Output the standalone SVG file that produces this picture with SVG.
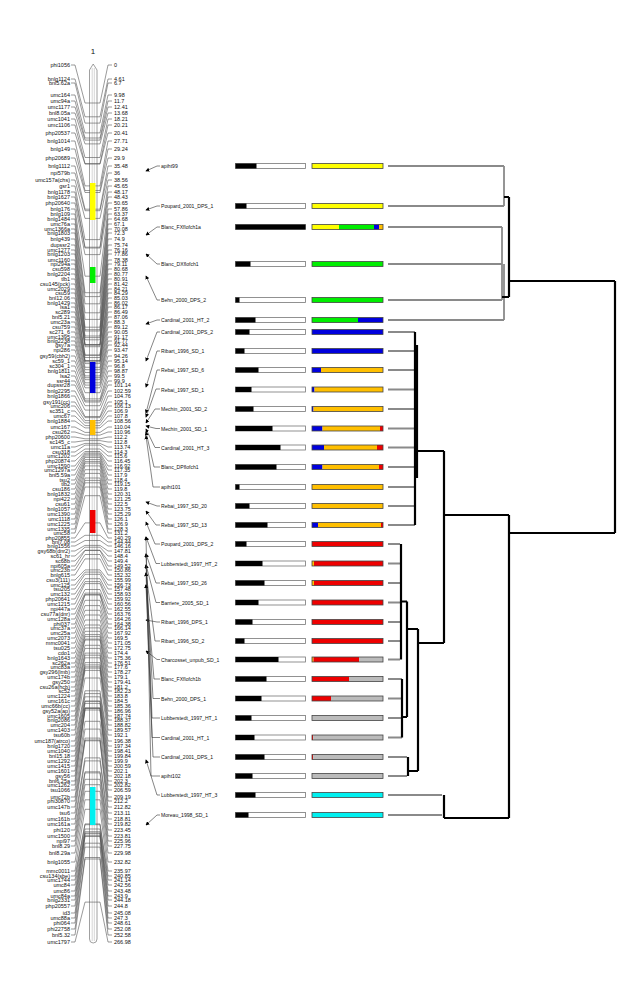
<svg xmlns="http://www.w3.org/2000/svg" width="641" height="1000" viewBox="0 0 641 1000">
<style>
text{font-family:"Liberation Sans",Arial,sans-serif;font-size:5.5px;fill:#111}
.l{text-anchor:end}
.q{font-size:5.1px}
#mlines path{fill:none;stroke:#555;stroke-width:0.6}
#qlines path{fill:none;stroke:#333;stroke-width:0.6}
.bo{fill:#fff;stroke:#777;stroke-width:0.8}
.co{fill:none;stroke:#444;stroke-width:0.8}
.lf{stroke:#8a8a8a;stroke-width:1.8;fill:none}
.bk{stroke:#000;stroke-width:2.2;fill:none}
</style>
<defs>
<marker id="arr" viewBox="0 0 6 6" refX="5" refY="3" markerWidth="4" markerHeight="4" orient="auto-start-reverse" markerUnits="userSpaceOnUse"><path d="M0,0L6,3L0,6z" fill="#000"/></marker>
</defs>
<rect width="641" height="1000" fill="#fff"/>
<text x="93" y="54" style="font-size:8px;text-anchor:middle">1</text>
<g id="chromosome">
<path d="M89.5 70 L93.2 64 L97 70 V939 Q97 943 93.2 943 Q89.5 943 89.5 939 Z" fill="#fff" stroke="#888" stroke-width="0.8"/>
<line x1="92.2" y1="68" x2="92.2" y2="941" stroke="#bbb" stroke-width="0.6"/>
<line x1="94.3" y1="68" x2="94.3" y2="941" stroke="#bbb" stroke-width="0.6"/>
</g>
<g id="mlines">
<path d="M71 65H75L85 103H100L108 65H112"/>
<path d="M71 79H75L85 116.8H100L108 79H112"/>
<path d="M71 83H75L85 123.1H100L108 83H112"/>
<path d="M71 95H75L85 132.9H100L108 95H112"/>
<path d="M71 101H75L85 138H100L108 101H112"/>
<path d="M71 107H75L85 140.1H100L108 107H112"/>
<path d="M71 113H75L85 143.9H100L108 113H112"/>
<path d="M71 119H75L85 157.5H100L108 119H112"/>
<path d="M71 125H75L85 163.5H100L108 125H112"/>
<path d="M71 133H75L85 164.1H100L108 133H112"/>
<path d="M71 141H75L85 185.9H100L108 141H112"/>
<path d="M71 149H75L85 190.5H100L108 149H112"/>
<path d="M71 158H75L85 192.5H100L108 158H112"/>
<path d="M71 166H75L85 209.2H100L108 166H112"/>
<path d="M71 173H75L85 210.7H100L108 173H112"/>
<path d="M71 180H75L85 218.4H100L108 180H112"/>
<path d="M71 186H75L85 239.6H100L108 186H112"/>
<path d="M71 192H75L85 247.2H100L108 192H112"/>
<path d="M71 197H75L85 248H100L108 197H112"/>
<path d="M71 203H75L85 254.6H100L108 203H112"/>
<path d="M71 209H75L85 276.2H100L108 209H112"/>
<path d="M71 214H75L85 292.7H100L108 214H112"/>
<path d="M71 219H75L85 296.6H100L108 219H112"/>
<path d="M71 224H75L85 303.8H100L108 224H112"/>
<path d="M71 229H75L85 312.8H100L108 229H112"/>
<path d="M71 233H75L85 319.4H100L108 233H112"/>
<path d="M71 239H75L85 327.2H100L108 239H112"/>
<path d="M71 245H75L85 329.7H100L108 245H112"/>
<path d="M71 250H75L85 331H100L108 250H112"/>
<path d="M71 254H75L85 336H100L108 254H112"/>
<path d="M71 260H75L85 337.6H100L108 260H112"/>
<path d="M71 264H75L85 339.8H100L108 264H112"/>
<path d="M71 269H75L85 344.5H100L108 269H112"/>
<path d="M71 274H75L85 344.7H100L108 274H112"/>
<path d="M71 279H75L85 345.2H100L108 279H112"/>
<path d="M71 284H75L85 346.7H100L108 284H112"/>
<path d="M71 289H75L85 355H100L108 289H112"/>
<path d="M71 293H75L85 355.3H100L108 293H112"/>
<path d="M71 298H75L85 357.5H100L108 298H112"/>
<path d="M71 303H75L85 360.5H100L108 303H112"/>
<path d="M71 307H75L85 360.9H100L108 307H112"/>
<path d="M71 312H75L85 361.9H100L108 312H112"/>
<path d="M71 317H75L85 363.6H100L108 317H112"/>
<path d="M71 322H75L85 367.3H100L108 322H112"/>
<path d="M71 327H75L85 369.7H100L108 327H112"/>
<path d="M71 332H75L85 372.5H100L108 332H112"/>
<path d="M71 337H75L85 375.9H100L108 337H112"/>
<path d="M71 341H75L85 377.7H100L108 341H112"/>
<path d="M71 345H75L85 379.7H100L108 345H112"/>
<path d="M71 350H75L85 382.8H100L108 350H112"/>
<path d="M71 356H75L85 385.1H100L108 356H112"/>
<path d="M71 361H75L85 387.8H100L108 361H112"/>
<path d="M71 366H75L85 392.7H100L108 366H112"/>
<path d="M71 371H75L85 398.9H100L108 371H112"/>
<path d="M71 376H75L85 400.8H100L108 376H112"/>
<path d="M71 381H75L85 402H100L108 381H112"/>
<path d="M71 385H75L85 405.7H100L108 385H112"/>
<path d="M71 391H75L85 410.1H100L108 391H112"/>
<path d="M71 396H75L85 416.5H100L108 396H112"/>
<path d="M71 402H75L85 417.6H100L108 402H112"/>
<path d="M71 406H75L85 420.6H100L108 406H112"/>
<path d="M71 411H75L85 422.9H100L108 411H112"/>
<path d="M71 416H75L85 425.6H100L108 416H112"/>
<path d="M71 421H75L85 427.9H100L108 421H112"/>
<path d="M71 427H75L85 432.4H100L108 427H112"/>
<path d="M71 432H75L85 435.1H100L108 432H112"/>
<path d="M71 437H75L85 438.8H100L108 437H112"/>
<path d="M71 442H75L85 440.6H100L108 442H112"/>
<path d="M71 447H75L85 443.4H100L108 447H112"/>
<path d="M71 452H75L85 445.1H100L108 452H112"/>
<path d="M71 456H75L85 449H100L108 456H112"/>
<path d="M71 461H75L85 451.5H100L108 461H112"/>
<path d="M71 466H75L85 453H100L108 466H112"/>
<path d="M71 470H75L85 454.2H100L108 470H112"/>
<path d="M71 475H75L85 455.9H100L108 475H112"/>
<path d="M71 480H75L85 457.4H100L108 480H112"/>
<path d="M71 484H75L85 459.6H100L108 484H112"/>
<path d="M71 489H75L85 461.6H100L108 489H112"/>
<path d="M71 494H75L85 463.1H100L108 494H112"/>
<path d="M71 499H75L85 465.9H100L108 499H112"/>
<path d="M71 504H75L85 469.7H100L108 504H112"/>
<path d="M71 509H75L85 473.4H100L108 509H112"/>
<path d="M71 514H75L85 478H100L108 514H112"/>
<path d="M71 519H75L85 480.4H100L108 519H112"/>
<path d="M71 524H75L85 482.8H100L108 524H112"/>
<path d="M71 529H75L85 487H100L108 529H112"/>
<path d="M71 533H75L85 495.7H100L108 533H112"/>
<path d="M71 538H75L85 522.9H100L108 538H112"/>
<path d="M71 542H75L85 535.3H100L108 542H112"/>
<path d="M71 546H75L85 540.5H100L108 546H112"/>
<path d="M71 551H75L85 545.4H100L108 551H112"/>
<path d="M71 556H75L85 547.2H100L108 556H112"/>
<path d="M71 561H75L85 550.2H100L108 561H112"/>
<path d="M71 566H75L85 550.5H100L108 566H112"/>
<path d="M71 570H75L85 554.5H100L108 570H112"/>
<path d="M71 575H75L85 558.9H100L108 575H112"/>
<path d="M71 580H75L85 569.9H100L108 580H112"/>
<path d="M71 585H75L85 572.1H100L108 585H112"/>
<path d="M71 589H75L85 574.3H100L108 589H112"/>
<path d="M71 594H75L85 578.7H100L108 594H112"/>
<path d="M71 599H75L85 581.6H100L108 599H112"/>
<path d="M71 604H75L85 583.6H100L108 604H112"/>
<path d="M71 609H75L85 589.5H100L108 609H112"/>
<path d="M71 614H75L85 593.1H100L108 614H112"/>
<path d="M71 619H75L85 594.6H100L108 619H112"/>
<path d="M71 624H75L85 595H100L108 624H112"/>
<path d="M71 628H75L85 600.3H100L108 628H112"/>
<path d="M71 633H75L85 605.6H100L108 633H112"/>
<path d="M71 638H75L85 610.3H100L108 638H112"/>
<path d="M71 643H75L85 615H100L108 643H112"/>
<path d="M71 648H75L85 620H100L108 648H112"/>
<path d="M71 653H75L85 625H100L108 653H112"/>
<path d="M71 658H75L85 627.9H100L108 658H112"/>
<path d="M71 663H75L85 631.3H100L108 663H112"/>
<path d="M71 667H75L85 634.6H100L108 667H112"/>
<path d="M71 672H75L85 636.6H100L108 672H112"/>
<path d="M71 677H75L85 639.1H100L108 677H112"/>
<path d="M71 682H75L85 640H100L108 682H112"/>
<path d="M71 687H75L85 645.3H100L108 687H112"/>
<path d="M71 691H75L85 648.4H100L108 691H112"/>
<path d="M71 696H75L85 653.1H100L108 696H112"/>
<path d="M71 701H75L85 655.2H100L108 701H112"/>
<path d="M71 706H75L85 657.8H100L108 706H112"/>
<path d="M71 711H75L85 662.6H100L108 711H112"/>
<path d="M71 716H75L85 664.9H100L108 716H112"/>
<path d="M71 720H75L85 666.8H100L108 720H112"/>
<path d="M71 725H75L85 668.1H100L108 725H112"/>
<path d="M71 730H75L85 670.4H100L108 730H112"/>
<path d="M71 735H75L85 678H100L108 735H112"/>
<path d="M71 741H75L85 690.8H100L108 741H112"/>
<path d="M71 746H75L85 693.6H100L108 746H112"/>
<path d="M71 751H75L85 696.8H100L108 751H112"/>
<path d="M71 756H75L85 701.1H100L108 756H112"/>
<path d="M71 761H75L85 701.3H100L108 761H112"/>
<path d="M71 766H75L85 703.4H100L108 766H112"/>
<path d="M71 771H75L85 707.9H100L108 771H112"/>
<path d="M71 776H75L85 708.1H100L108 776H112"/>
<path d="M71 781H75L85 708.5H100L108 781H112"/>
<path d="M71 785H75L85 710H100L108 785H112"/>
<path d="M71 790H75L85 721.3H100L108 790H112"/>
<path d="M71 797H75L85 729.1H100L108 797H112"/>
<path d="M71 801H75L85 738.1H100L108 801H112"/>
<path d="M71 807H75L85 740H100L108 807H112"/>
<path d="M71 813H75L85 740.8H100L108 813H112"/>
<path d="M71 819H75L85 757.9H100L108 819H112"/>
<path d="M71 824H75L85 760.9H100L108 824H112"/>
<path d="M71 830H75L85 771.8H100L108 830H112"/>
<path d="M71 836H75L85 772.9H100L108 836H112"/>
<path d="M71 841H75L85 779.3H100L108 841H112"/>
<path d="M71 846H75L85 784.7H100L108 846H112"/>
<path d="M71 853H75L85 791.3H100L108 853H112"/>
<path d="M71 862H75L85 799.8H100L108 862H112"/>
<path d="M71 871H75L85 809.3H100L108 871H112"/>
<path d="M71 876H75L85 823.9H100L108 876H112"/>
<path d="M71 880H75L85 824.7H100L108 880H112"/>
<path d="M71 885H75L85 829H100L108 885H112"/>
<path d="M71 891H75L85 831.7H100L108 891H112"/>
<path d="M71 896H75L85 833H100L108 896H112"/>
<path d="M71 900H75L85 833.8H100L108 900H112"/>
<path d="M71 906H75L85 835.7H100L108 906H112"/>
<path d="M71 913H75L85 836.5H100L108 913H112"/>
<path d="M71 918H75L85 843.2H100L108 918H112"/>
<path d="M71 923H75L85 847.1H100L108 923H112"/>
<path d="M71 929H75L85 857.5H100L108 929H112"/>
<path d="M71 935H75L85 859H100L108 935H112"/>
<path d="M71 942H75L85 902.1H100L108 942H112"/>
</g>
<g id="qtl-blocks">
<rect x="90" y="183" width="5.5" height="37" fill="#ffff00"/>
<rect x="90" y="267" width="5.5" height="16" fill="#00ee00"/>
<rect x="90" y="362" width="5.5" height="31" fill="#0000dd"/>
<rect x="90" y="420" width="5.5" height="15" fill="#ffbf00"/>
<rect x="90" y="510" width="5.5" height="23" fill="#ee0000"/>
<rect x="90" y="787" width="5.5" height="38" fill="#00f0f0"/>
</g>
<g id="left-labels">
<text class="l" x="70" y="67">phi1056</text>
<text class="l" x="70" y="81">bnlg1124</text>
<text class="l" x="70" y="85">bnl5.62a</text>
<text class="l" x="70" y="97">umc164</text>
<text class="l" x="70" y="103">umc94a</text>
<text class="l" x="70" y="109">umc1177</text>
<text class="l" x="70" y="115">bnl8.05a</text>
<text class="l" x="70" y="121">umc1041</text>
<text class="l" x="70" y="127">umc1106</text>
<text class="l" x="70" y="135">php20537</text>
<text class="l" x="70" y="143">bnlg1014</text>
<text class="l" x="70" y="151">bnlg149</text>
<text class="l" x="70" y="160">php20689</text>
<text class="l" x="70" y="168">bnlg1112</text>
<text class="l" x="70" y="175">npi579b</text>
<text class="l" x="70" y="182">umc157a(chs)</text>
<text class="l" x="70" y="188">gsr1</text>
<text class="l" x="70" y="194">bnlg1178</text>
<text class="l" x="70" y="199">bnlg1627</text>
<text class="l" x="70" y="205">php20640</text>
<text class="l" x="70" y="211">bnlg176</text>
<text class="l" x="70" y="216">bnlg109</text>
<text class="l" x="70" y="221">bnlg1484</text>
<text class="l" x="70" y="226">umc76a</text>
<text class="l" x="70" y="231">umc1366a</text>
<text class="l" x="70" y="235">bnlg1803</text>
<text class="l" x="70" y="241">bnlg439</text>
<text class="l" x="70" y="247">dupssr2</text>
<text class="l" x="70" y="252">umc1277</text>
<text class="l" x="70" y="256">bnlg1203</text>
<text class="l" x="70" y="262">umc1160</text>
<text class="l" x="70" y="266">npi294a</text>
<text class="l" x="70" y="271">csu598</text>
<text class="l" x="70" y="276">bnlg2204</text>
<text class="l" x="70" y="281">tlb1</text>
<text class="l" x="70" y="286">csu145(pck)</text>
<text class="l" x="70" y="291">umc2029</text>
<text class="l" x="70" y="295">csu59</text>
<text class="l" x="70" y="300">bnl12.06</text>
<text class="l" x="70" y="305">bnlg1429</text>
<text class="l" x="70" y="309">lsa1</text>
<text class="l" x="70" y="314">sc289</text>
<text class="l" x="70" y="319">bnl5.21</text>
<text class="l" x="70" y="324">umc23a</text>
<text class="l" x="70" y="329">csu759</text>
<text class="l" x="70" y="334">sc271_6</text>
<text class="l" x="70" y="339">umc1395</text>
<text class="l" x="70" y="343">bnlg2238</text>
<text class="l" x="70" y="347">gsy7a</text>
<text class="l" x="70" y="352">npi286</text>
<text class="l" x="70" y="358">gsy59(cbh2)</text>
<text class="l" x="70" y="363">sc59_1</text>
<text class="l" x="70" y="368">sc304_1</text>
<text class="l" x="70" y="373">bnlg1811</text>
<text class="l" x="70" y="378">lsa2</text>
<text class="l" x="70" y="383">ssr44</text>
<text class="l" x="70" y="387">dupssr28</text>
<text class="l" x="70" y="393">bnlg2295</text>
<text class="l" x="70" y="398">bnlg1866</text>
<text class="l" x="70" y="404">gsy191(cc)</text>
<text class="l" x="70" y="408">umc206</text>
<text class="l" x="70" y="413">sc351_c</text>
<text class="l" x="70" y="418">umc67</text>
<text class="l" x="70" y="423">bnlg1884</text>
<text class="l" x="70" y="429">umc167</text>
<text class="l" x="70" y="434">csu262</text>
<text class="l" x="70" y="439">php20600</text>
<text class="l" x="70" y="444">sc145_c</text>
<text class="l" x="70" y="449">umc11a</text>
<text class="l" x="70" y="454">csu318</text>
<text class="l" x="70" y="458">umc1202</text>
<text class="l" x="70" y="463">php20874</text>
<text class="l" x="70" y="468">umc1590</text>
<text class="l" x="70" y="472">umc1297a</text>
<text class="l" x="70" y="477">bnl5.59a</text>
<text class="l" x="70" y="482">tsu2</text>
<text class="l" x="70" y="486">tlb2</text>
<text class="l" x="70" y="491">csu186</text>
<text class="l" x="70" y="496">bnlg1832</text>
<text class="l" x="70" y="501">npi422</text>
<text class="l" x="70" y="506">csu61</text>
<text class="l" x="70" y="511">bnlg1057</text>
<text class="l" x="70" y="516">umc1390</text>
<text class="l" x="70" y="521">umc1118</text>
<text class="l" x="70" y="526">umc1225</text>
<text class="l" x="70" y="531">umc1335</text>
<text class="l" x="70" y="535">umc58</text>
<text class="l" x="70" y="540">php20855</text>
<text class="l" x="70" y="544">bnl7.08</text>
<text class="l" x="70" y="548">bnlg1556</text>
<text class="l" x="70" y="553">gsy68b(dnr2)</text>
<text class="l" x="70" y="558">sc61_hr</text>
<text class="l" x="70" y="563">sc68b</text>
<text class="l" x="70" y="568">npi605a</text>
<text class="l" x="70" y="572">umc23b</text>
<text class="l" x="70" y="577">bnlg615</text>
<text class="l" x="70" y="582">csu3(111)</text>
<text class="l" x="70" y="587">umc125</text>
<text class="l" x="70" y="591">tsu205</text>
<text class="l" x="70" y="596">umc132</text>
<text class="l" x="70" y="601">php20641</text>
<text class="l" x="70" y="606">umc1215</text>
<text class="l" x="70" y="611">npi447a</text>
<text class="l" x="70" y="616">csu77a(dnr)</text>
<text class="l" x="70" y="621">umc128a</text>
<text class="l" x="70" y="626">phi037</text>
<text class="l" x="70" y="630">umc37a</text>
<text class="l" x="70" y="635">umc25a</text>
<text class="l" x="70" y="640">umc2073</text>
<text class="l" x="70" y="645">mmc0041</text>
<text class="l" x="70" y="650">tsu025</text>
<text class="l" x="70" y="655">cdo1</text>
<text class="l" x="70" y="660">bnlg1643</text>
<text class="l" x="70" y="665">sc262a</text>
<text class="l" x="70" y="669">umc83a</text>
<text class="l" x="70" y="674">gsy296(lmb)</text>
<text class="l" x="70" y="679">umc174b</text>
<text class="l" x="70" y="684">gsy250</text>
<text class="l" x="70" y="689">csu26a(hcb)</text>
<text class="l" x="70" y="693">sc52</text>
<text class="l" x="70" y="698">umc1224</text>
<text class="l" x="70" y="703">umc161c</text>
<text class="l" x="70" y="708">umc66b(cc)</text>
<text class="l" x="70" y="713">gsy52a(ap)</text>
<text class="l" x="70" y="718">umc1605</text>
<text class="l" x="70" y="722">bnlg2086</text>
<text class="l" x="70" y="727">umc204</text>
<text class="l" x="70" y="732">umc1403</text>
<text class="l" x="70" y="737">tsu60b</text>
<text class="l" x="70" y="743">umc187(atrco)</text>
<text class="l" x="70" y="748">bnlg1720</text>
<text class="l" x="70" y="753">umc1040</text>
<text class="l" x="70" y="758">bnl15.18</text>
<text class="l" x="70" y="763">umc1292</text>
<text class="l" x="70" y="768">umc1415</text>
<text class="l" x="70" y="773">umc1601</text>
<text class="l" x="70" y="778">gsy56</text>
<text class="l" x="70" y="783">bnl6.25a</text>
<text class="l" x="70" y="787">umc1262</text>
<text class="l" x="70" y="792">tsu1066</text>
<text class="l" x="70" y="799">umc72b</text>
<text class="l" x="70" y="803">phi30870</text>
<text class="l" x="70" y="809">umc147b</text>
<text class="l" x="70" y="815">tsu6</text>
<text class="l" x="70" y="821">umc161b</text>
<text class="l" x="70" y="826">umc161a</text>
<text class="l" x="70" y="832">phi120</text>
<text class="l" x="70" y="838">umc1500</text>
<text class="l" x="70" y="843">npi97</text>
<text class="l" x="70" y="848">bnl8.29</text>
<text class="l" x="70" y="855">bnl8.29a</text>
<text class="l" x="70" y="864">bnlg1055</text>
<text class="l" x="70" y="873">mmc0011</text>
<text class="l" x="70" y="878">csu134(sbe)</text>
<text class="l" x="70" y="882">umc1744</text>
<text class="l" x="70" y="887">umc84</text>
<text class="l" x="70" y="893">umc86</text>
<text class="l" x="70" y="898">umc84a</text>
<text class="l" x="70" y="902">bnlg2331</text>
<text class="l" x="70" y="908">php20557</text>
<text class="l" x="70" y="915">id3</text>
<text class="l" x="70" y="920">umc88a</text>
<text class="l" x="70" y="925">phi064</text>
<text class="l" x="70" y="931">phi22758</text>
<text class="l" x="70" y="937">bnl5.32</text>
<text class="l" x="70" y="944">umc1797</text>
</g>
<g id="right-labels">
<text x="114" y="67">0</text>
<text x="114" y="81">4.61</text>
<text x="114" y="85">6.7</text>
<text x="114" y="97">9.98</text>
<text x="114" y="103">11.7</text>
<text x="114" y="109">12.41</text>
<text x="114" y="115">13.68</text>
<text x="114" y="121">18.21</text>
<text x="114" y="127">20.21</text>
<text x="114" y="135">20.41</text>
<text x="114" y="143">27.71</text>
<text x="114" y="151">29.24</text>
<text x="114" y="160">29.9</text>
<text x="114" y="168">35.48</text>
<text x="114" y="175">36</text>
<text x="114" y="182">38.56</text>
<text x="114" y="188">45.65</text>
<text x="114" y="194">48.17</text>
<text x="114" y="199">48.43</text>
<text x="114" y="205">50.65</text>
<text x="114" y="211">57.86</text>
<text x="114" y="216">63.37</text>
<text x="114" y="221">64.68</text>
<text x="114" y="226">67.1</text>
<text x="114" y="231">70.08</text>
<text x="114" y="235">72.3</text>
<text x="114" y="241">74.9</text>
<text x="114" y="247">75.74</text>
<text x="114" y="252">76.16</text>
<text x="114" y="256">77.86</text>
<text x="114" y="262">78.38</text>
<text x="114" y="266">79.11</text>
<text x="114" y="271">80.68</text>
<text x="114" y="276">80.77</text>
<text x="114" y="281">80.91</text>
<text x="114" y="286">81.42</text>
<text x="114" y="291">84.21</text>
<text x="114" y="295">84.29</text>
<text x="114" y="300">85.03</text>
<text x="114" y="305">86.02</text>
<text x="114" y="309">86.17</text>
<text x="114" y="314">86.49</text>
<text x="114" y="319">87.06</text>
<text x="114" y="324">88.3</text>
<text x="114" y="329">89.12</text>
<text x="114" y="334">90.05</text>
<text x="114" y="339">91.17</text>
<text x="114" y="343">91.77</text>
<text x="114" y="347">92.44</text>
<text x="114" y="352">93.47</text>
<text x="114" y="358">94.26</text>
<text x="114" y="363">95.14</text>
<text x="114" y="368">96.8</text>
<text x="114" y="373">98.87</text>
<text x="114" y="378">99.5</text>
<text x="114" y="383">99.9</text>
<text x="114" y="387">101.14</text>
<text x="114" y="393">102.59</text>
<text x="114" y="398">104.76</text>
<text x="114" y="404">105.1</text>
<text x="114" y="408">106.13</text>
<text x="114" y="413">106.9</text>
<text x="114" y="418">107.8</text>
<text x="114" y="423">108.56</text>
<text x="114" y="429">110.04</text>
<text x="114" y="434">110.96</text>
<text x="114" y="439">112.2</text>
<text x="114" y="444">112.8</text>
<text x="114" y="449">113.74</text>
<text x="114" y="454">114.3</text>
<text x="114" y="458">115.6</text>
<text x="114" y="463">116.45</text>
<text x="114" y="468">116.92</text>
<text x="114" y="472">117.35</text>
<text x="114" y="477">117.9</text>
<text x="114" y="482">118.4</text>
<text x="114" y="486">119.15</text>
<text x="114" y="491">119.8</text>
<text x="114" y="496">120.31</text>
<text x="114" y="501">121.25</text>
<text x="114" y="506">122.5</text>
<text x="114" y="511">123.75</text>
<text x="114" y="516">125.29</text>
<text x="114" y="521">126.1</text>
<text x="114" y="526">126.9</text>
<text x="114" y="531">128.3</text>
<text x="114" y="535">131.2</text>
<text x="114" y="540">140.29</text>
<text x="114" y="544">144.44</text>
<text x="114" y="548">146.16</text>
<text x="114" y="553">147.81</text>
<text x="114" y="558">148.4</text>
<text x="114" y="563">149.4</text>
<text x="114" y="568">149.52</text>
<text x="114" y="572">150.86</text>
<text x="114" y="577">152.32</text>
<text x="114" y="582">155.99</text>
<text x="114" y="587">156.73</text>
<text x="114" y="591">157.48</text>
<text x="114" y="596">158.93</text>
<text x="114" y="601">159.92</text>
<text x="114" y="606">160.56</text>
<text x="114" y="611">162.55</text>
<text x="114" y="616">163.76</text>
<text x="114" y="621">164.26</text>
<text x="114" y="626">164.38</text>
<text x="114" y="630">166.14</text>
<text x="114" y="635">167.92</text>
<text x="114" y="640">169.5</text>
<text x="114" y="645">171.05</text>
<text x="114" y="650">172.75</text>
<text x="114" y="655">174.4</text>
<text x="114" y="660">175.36</text>
<text x="114" y="665">176.51</text>
<text x="114" y="669">177.6</text>
<text x="114" y="674">178.27</text>
<text x="114" y="679">179.1</text>
<text x="114" y="684">179.41</text>
<text x="114" y="689">181.2</text>
<text x="114" y="693">182.23</text>
<text x="114" y="698">183.8</text>
<text x="114" y="703">184.5</text>
<text x="114" y="708">185.36</text>
<text x="114" y="713">186.96</text>
<text x="114" y="718">187.74</text>
<text x="114" y="722">188.37</text>
<text x="114" y="727">188.82</text>
<text x="114" y="732">189.57</text>
<text x="114" y="737">192.1</text>
<text x="114" y="743">196.38</text>
<text x="114" y="748">197.34</text>
<text x="114" y="753">198.41</text>
<text x="114" y="758">199.84</text>
<text x="114" y="763">199.9</text>
<text x="114" y="768">200.59</text>
<text x="114" y="773">202.1</text>
<text x="114" y="778">202.18</text>
<text x="114" y="783">202.3</text>
<text x="114" y="787">202.82</text>
<text x="114" y="792">206.59</text>
<text x="114" y="799">209.19</text>
<text x="114" y="803">212.2</text>
<text x="114" y="809">212.82</text>
<text x="114" y="815">213.11</text>
<text x="114" y="821">218.81</text>
<text x="114" y="826">219.82</text>
<text x="114" y="832">223.45</text>
<text x="114" y="838">223.81</text>
<text x="114" y="843">225.96</text>
<text x="114" y="848">227.75</text>
<text x="114" y="855">229.98</text>
<text x="114" y="864">232.82</text>
<text x="114" y="873">235.97</text>
<text x="114" y="878">240.85</text>
<text x="114" y="882">241.14</text>
<text x="114" y="887">242.56</text>
<text x="114" y="893">243.48</text>
<text x="114" y="898">243.9</text>
<text x="114" y="902">244.18</text>
<text x="114" y="908">244.8</text>
<text x="114" y="915">245.08</text>
<text x="114" y="920">247.3</text>
<text x="114" y="925">248.61</text>
<text x="114" y="931">252.08</text>
<text x="114" y="937">252.58</text>
<text x="114" y="944">266.98</text>
</g>
<g id="qlines">
<path d="M146 171L157 166H160" marker-start="url(#arr)"/>
<path d="M146 210L157 206H160" marker-start="url(#arr)"/>
<path d="M146 235L157 227H160" marker-start="url(#arr)"/>
<path d="M146 254L157 264H160" marker-start="url(#arr)"/>
<path d="M146 276L157 300H160" marker-start="url(#arr)"/>
<path d="M146 324L157 320H160" marker-start="url(#arr)"/>
<path d="M146 361L157 332H160" marker-start="url(#arr)"/>
<path d="M146 387L157 351H160" marker-start="url(#arr)"/>
<path d="M146 413L157 370H160" marker-start="url(#arr)"/>
<path d="M146 417L156 389H160" marker-start="url(#arr)"/>
<path d="M146 423L155 409H160" marker-start="url(#arr)"/>
<path d="M146 426L156 428.5H160" marker-start="url(#arr)"/>
<path d="M146 429L155 447.5H160" marker-start="url(#arr)"/>
<path d="M146 432L154 467H160" marker-start="url(#arr)"/>
<path d="M146 436L153 487H160" marker-start="url(#arr)"/>
<path d="M146 502L157 506H160" marker-start="url(#arr)"/>
<path d="M146 511L156 525H160" marker-start="url(#arr)"/>
<path d="M146 522L155 544H160" marker-start="url(#arr)"/>
<path d="M146 537L156 563.5H160" marker-start="url(#arr)"/>
<path d="M146 554L156 583H160" marker-start="url(#arr)"/>
<path d="M146 565L156 602.5H160" marker-start="url(#arr)"/>
<path d="M146 620L157 622H160" marker-start="url(#arr)"/>
<path d="M146 573L155 641H160" marker-start="url(#arr)"/>
<path d="M146 651L157 659.5H160" marker-start="url(#arr)"/>
<path d="M146 585L154 679H160" marker-start="url(#arr)"/>
<path d="M146 565L153 698.5H160" marker-start="url(#arr)"/>
<path d="M146 554L152 718H160" marker-start="url(#arr)"/>
<path d="M146 573L152 737.5H160" marker-start="url(#arr)"/>
<path d="M146 585L153 757H160" marker-start="url(#arr)"/>
<path d="M146 537L151 776H160" marker-start="url(#arr)"/>
<path d="M146 760L157 795H160" marker-start="url(#arr)"/>
<path d="M146 825L157 815H160" marker-start="url(#arr)"/>
</g>
<g id="qtl-names">
<text class="q" x="161" y="168">apiht99</text>
<text class="q" x="161" y="208">Poupard_2001_DPS_1</text>
<text class="q" x="161" y="229">Blanc_FXflofch1a</text>
<text class="q" x="161" y="266">Blanc_DXflofch1</text>
<text class="q" x="161" y="302">Behn_2000_DPS_2</text>
<text class="q" x="161" y="322">Cardinal_2001_HT_2</text>
<text class="q" x="161" y="334">Cardinal_2001_DPS_2</text>
<text class="q" x="161" y="353">Ribart_1996_SD_1</text>
<text class="q" x="161" y="372">Rebai_1997_SD_6</text>
<text class="q" x="161" y="391.5">Rebai_1997_SD_1</text>
<text class="q" x="161" y="411">Mechin_2001_SD_2</text>
<text class="q" x="161" y="430.5">Mechin_2001_SD_1</text>
<text class="q" x="161" y="449.5">Cardinal_2001_HT_3</text>
<text class="q" x="161" y="469">Blanc_DPflofch1</text>
<text class="q" x="161" y="489">apiht101</text>
<text class="q" x="161" y="508">Rebai_1997_SD_20</text>
<text class="q" x="161" y="527">Rebai_1997_SD_13</text>
<text class="q" x="161" y="546">Poupard_2001_DPS_2</text>
<text class="q" x="161" y="565.5">Lubberstedt_1997_HT_2</text>
<text class="q" x="161" y="585">Rebai_1997_SD_26</text>
<text class="q" x="161" y="604.5">Barriere_2005_SD_1</text>
<text class="q" x="161" y="624">Ribart_1996_DPS_1</text>
<text class="q" x="161" y="643">Ribart_1996_SD_2</text>
<text class="q" x="161" y="661.5">Charcosset_unpub_SD_1</text>
<text class="q" x="161" y="681">Blanc_FXflofch1b</text>
<text class="q" x="161" y="700.5">Behn_2000_DPS_1</text>
<text class="q" x="161" y="720">Lubberstedt_1997_HT_1</text>
<text class="q" x="161" y="739.5">Cardinal_2001_HT_1</text>
<text class="q" x="161" y="759">Cardinal_2001_DPS_1</text>
<text class="q" x="161" y="778">apiht102</text>
<text class="q" x="161" y="797">Lubberstedt_1997_HT_3</text>
<text class="q" x="161" y="817">Moreau_1998_SD_1</text>
</g>
<g id="score-bars">
<rect class="bo" x="235.5" y="163.5" width="70" height="5"/><rect x="235.5" y="163.5" width="21" height="5"/>
<rect class="bo" x="235.5" y="203.5" width="70" height="5"/><rect x="235.5" y="203.5" width="11" height="5"/>
<rect class="bo" x="235.5" y="224.5" width="70" height="5"/><rect x="235.5" y="224.5" width="70" height="5"/>
<rect class="bo" x="235.5" y="261.5" width="70" height="5"/><rect x="235.5" y="261.5" width="15" height="5"/>
<rect class="bo" x="235.5" y="297.5" width="70" height="5"/><rect x="235.5" y="297.5" width="4" height="5"/>
<rect class="bo" x="235.5" y="317.5" width="70" height="5"/><rect x="235.5" y="317.5" width="20" height="5"/>
<rect class="bo" x="235.5" y="329.5" width="70" height="5"/><rect x="235.5" y="329.5" width="14" height="5"/>
<rect class="bo" x="235.5" y="348.5" width="70" height="5"/><rect x="235.5" y="348.5" width="9" height="5"/>
<rect class="bo" x="235.5" y="367.5" width="70" height="5"/><rect x="235.5" y="367.5" width="23" height="5"/>
<rect class="bo" x="235.5" y="387" width="70" height="5"/><rect x="235.5" y="387" width="16" height="5"/>
<rect class="bo" x="235.5" y="406.5" width="70" height="5"/><rect x="235.5" y="406.5" width="18" height="5"/>
<rect class="bo" x="235.5" y="426" width="70" height="5"/><rect x="235.5" y="426" width="37" height="5"/>
<rect class="bo" x="235.5" y="445" width="70" height="5"/><rect x="235.5" y="445" width="45" height="5"/>
<rect class="bo" x="235.5" y="464.5" width="70" height="5"/><rect x="235.5" y="464.5" width="41" height="5"/>
<rect class="bo" x="235.5" y="484.5" width="70" height="5"/><rect x="235.5" y="484.5" width="4" height="5"/>
<rect class="bo" x="235.5" y="503.5" width="70" height="5"/><rect x="235.5" y="503.5" width="14" height="5"/>
<rect class="bo" x="235.5" y="522.5" width="70" height="5"/><rect x="235.5" y="522.5" width="32" height="5"/>
<rect class="bo" x="235.5" y="541.5" width="70" height="5"/><rect x="235.5" y="541.5" width="11" height="5"/>
<rect class="bo" x="235.5" y="561" width="70" height="5"/><rect x="235.5" y="561" width="27" height="5"/>
<rect class="bo" x="235.5" y="580.5" width="70" height="5"/><rect x="235.5" y="580.5" width="29" height="5"/>
<rect class="bo" x="235.5" y="600" width="70" height="5"/><rect x="235.5" y="600" width="23" height="5"/>
<rect class="bo" x="235.5" y="619.5" width="70" height="5"/><rect x="235.5" y="619.5" width="17" height="5"/>
<rect class="bo" x="235.5" y="638.5" width="70" height="5"/><rect x="235.5" y="638.5" width="9" height="5"/>
<rect class="bo" x="235.5" y="657" width="70" height="5"/><rect x="235.5" y="657" width="43" height="5"/>
<rect class="bo" x="235.5" y="676.5" width="70" height="5"/><rect x="235.5" y="676.5" width="31" height="5"/>
<rect class="bo" x="235.5" y="696" width="70" height="5"/><rect x="235.5" y="696" width="26" height="5"/>
<rect class="bo" x="235.5" y="715.5" width="70" height="5"/><rect x="235.5" y="715.5" width="16" height="5"/>
<rect class="bo" x="235.5" y="735" width="70" height="5"/><rect x="235.5" y="735" width="19" height="5"/>
<rect class="bo" x="235.5" y="754.5" width="70" height="5"/><rect x="235.5" y="754.5" width="29" height="5"/>
<rect class="bo" x="235.5" y="773.5" width="70" height="5"/><rect x="235.5" y="773.5" width="17" height="5"/>
<rect class="bo" x="235.5" y="792.5" width="70" height="5"/><rect x="235.5" y="792.5" width="20" height="5"/>
<rect class="bo" x="235.5" y="812.5" width="70" height="5"/><rect x="235.5" y="812.5" width="13" height="5"/>
</g>
<g id="colour-bars">
<rect x="312" y="163.5" width="71" height="5" fill="#ffff00"/>
<rect x="312" y="203.5" width="71" height="5" fill="#ffff00"/>
<rect x="312" y="224.5" width="27" height="5" fill="#ffff00"/><rect x="339" y="224.5" width="35" height="5" fill="#00ee00"/><rect x="374" y="224.5" width="5" height="5" fill="#0000dd"/><rect x="379" y="224.5" width="4" height="5" fill="#ffbf00"/>
<rect x="312" y="261.5" width="71" height="5" fill="#00ee00"/>
<rect x="312" y="297.5" width="71" height="5" fill="#00ee00"/>
<rect x="312" y="317.5" width="46" height="5" fill="#00ee00"/><rect x="358" y="317.5" width="25" height="5" fill="#0000dd"/>
<rect x="312" y="329.5" width="71" height="5" fill="#0000dd"/>
<rect x="312" y="348.5" width="71" height="5" fill="#0000dd"/>
<rect x="312" y="367.5" width="9" height="5" fill="#0000dd"/><rect x="321" y="367.5" width="62" height="5" fill="#ffbf00"/>
<rect x="312" y="387" width="2.5" height="5" fill="#0000dd"/><rect x="314.5" y="387" width="68.5" height="5" fill="#ffbf00"/>
<rect x="312" y="406.5" width="1.5" height="5" fill="#0000dd"/><rect x="313.5" y="406.5" width="69.5" height="5" fill="#ffbf00"/>
<rect x="312" y="426" width="10.5" height="5" fill="#0000dd"/><rect x="322.5" y="426" width="57.5" height="5" fill="#ffbf00"/><rect x="380" y="426" width="3" height="5" fill="#ee0000"/>
<rect x="312" y="445" width="12" height="5" fill="#0000dd"/><rect x="324" y="445" width="53" height="5" fill="#ffbf00"/><rect x="377" y="445" width="6" height="5" fill="#ee0000"/>
<rect x="312" y="464.5" width="10.5" height="5" fill="#0000dd"/><rect x="322.5" y="464.5" width="56.5" height="5" fill="#ffbf00"/><rect x="379" y="464.5" width="4" height="5" fill="#ee0000"/>
<rect x="312" y="484.5" width="71" height="5" fill="#ffbf00"/>
<rect x="312" y="503.5" width="71" height="5" fill="#ffbf00"/>
<rect x="312" y="522.5" width="6" height="5" fill="#0000dd"/><rect x="318" y="522.5" width="63" height="5" fill="#ffbf00"/><rect x="381" y="522.5" width="2" height="5" fill="#ee0000"/>
<rect x="312" y="541.5" width="71" height="5" fill="#ee0000"/>
<rect x="312" y="561" width="2" height="5" fill="#ffbf00"/><rect x="314" y="561" width="69" height="5" fill="#ee0000"/>
<rect x="312" y="580.5" width="2" height="5" fill="#ffbf00"/><rect x="314" y="580.5" width="69" height="5" fill="#ee0000"/>
<rect x="312" y="600" width="71" height="5" fill="#ee0000"/>
<rect x="312" y="619.5" width="71" height="5" fill="#ee0000"/>
<rect x="312" y="638.5" width="71" height="5" fill="#ee0000"/>
<rect x="312" y="657" width="1.5" height="5" fill="#ffbf00"/><rect x="313.5" y="657" width="45.5" height="5" fill="#ee0000"/><rect x="359" y="657" width="24" height="5" fill="#bbbbbb"/>
<rect x="312" y="676.5" width="37" height="5" fill="#ee0000"/><rect x="349" y="676.5" width="34" height="5" fill="#bbbbbb"/>
<rect x="312" y="696" width="19" height="5" fill="#ee0000"/><rect x="331" y="696" width="52" height="5" fill="#bbbbbb"/>
<rect x="312" y="715.5" width="71" height="5" fill="#bbbbbb"/>
<rect x="312" y="735" width="1.2" height="5" fill="#ee0000"/><rect x="313.2" y="735" width="69.8" height="5" fill="#bbbbbb"/>
<rect x="312" y="754.5" width="1.2" height="5" fill="#ee0000"/><rect x="313.2" y="754.5" width="69.8" height="5" fill="#bbbbbb"/>
<rect x="312" y="773.5" width="71" height="5" fill="#bbbbbb"/>
<rect x="312" y="792.5" width="71" height="5" fill="#00f0f0"/>
<rect x="312" y="812.5" width="71" height="5" fill="#00f0f0"/>
<rect class="co" x="312" y="163.5" width="71" height="5"/><rect class="co" x="312" y="203.5" width="71" height="5"/><rect class="co" x="312" y="224.5" width="71" height="5"/><rect class="co" x="312" y="261.5" width="71" height="5"/><rect class="co" x="312" y="297.5" width="71" height="5"/><rect class="co" x="312" y="317.5" width="71" height="5"/><rect class="co" x="312" y="329.5" width="71" height="5"/><rect class="co" x="312" y="348.5" width="71" height="5"/><rect class="co" x="312" y="367.5" width="71" height="5"/><rect class="co" x="312" y="387" width="71" height="5"/><rect class="co" x="312" y="406.5" width="71" height="5"/><rect class="co" x="312" y="426" width="71" height="5"/><rect class="co" x="312" y="445" width="71" height="5"/><rect class="co" x="312" y="464.5" width="71" height="5"/><rect class="co" x="312" y="484.5" width="71" height="5"/><rect class="co" x="312" y="503.5" width="71" height="5"/><rect class="co" x="312" y="522.5" width="71" height="5"/><rect class="co" x="312" y="541.5" width="71" height="5"/><rect class="co" x="312" y="561" width="71" height="5"/><rect class="co" x="312" y="580.5" width="71" height="5"/><rect class="co" x="312" y="600" width="71" height="5"/><rect class="co" x="312" y="619.5" width="71" height="5"/><rect class="co" x="312" y="638.5" width="71" height="5"/><rect class="co" x="312" y="657" width="71" height="5"/><rect class="co" x="312" y="676.5" width="71" height="5"/><rect class="co" x="312" y="696" width="71" height="5"/><rect class="co" x="312" y="715.5" width="71" height="5"/><rect class="co" x="312" y="735" width="71" height="5"/><rect class="co" x="312" y="754.5" width="71" height="5"/><rect class="co" x="312" y="773.5" width="71" height="5"/><rect class="co" x="312" y="792.5" width="71" height="5"/><rect class="co" x="312" y="812.5" width="71" height="5"/>
</g>
<g id="dendrogram">
<path class="lf" d="M388 166H504M388 206H504M504 166V206M388 227H502M388 264H502M388 300H502M388 320H504M502 227V300M504 264V320"/>
<path class="bk" d="M504 197H509M502 297H509M509 197V297M509 281H615M615 281V533M509 533H615"/>
<path class="lf" d="M388 332H415M388 351H415M388 370H415M388 389.5H415M388 409H415M388 428.5H415M388 447.5H415M388 467H415M388 487H415M388 506H415M388 525H415"/>
<path class="bk" d="M415 332V525M417 345V478M416 451H444M444 451V643M444 515H509M509 515V818"/>
<path class="lf" d="M388 544H400M388 563.5H400M388 583H400M388 602.5H400M388 622H400M388 641H400M388 659.5H400M388 679H402M388 698.5H402M388 718H402M388 737.5H402M388 757H407M388 776H407"/>
<path class="bk" d="M401 544V659.5M402 679V737.5M401 601.5H407M402 717H407M407 601.5V717M408 757V776M407 629H418M408 771H418M418 629V771M418 643H444"/>
<path class="lf" d="M388 795H442M388 815H442"/>
<path class="bk" d="M444 795V818M444 818H509"/>
</g>
</svg>
